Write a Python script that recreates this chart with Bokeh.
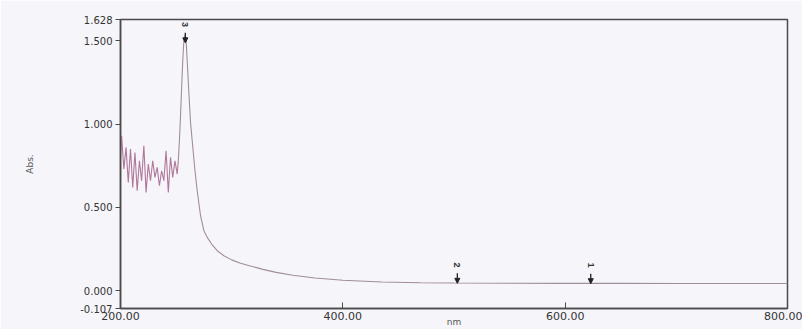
import math
from bokeh.plotting import figure
from bokeh.models import (ColumnDataSource, FixedTicker, NumeralTickFormatter, Range1d,
                          Arrow, NormalHead)
from bokeh.embed import file_html
from bokeh.resources import INLINE

# ---- data ----
# noisy region (pinker trace)
noise_nm = [200, 201, 203, 205, 207, 209, 211, 213, 215, 217, 219, 221, 223, 225, 227, 229,
            231, 233, 235, 237, 239, 241, 243, 245, 247, 249, 251, 252]
noise_abs = [0.80, 0.93, 0.73, 0.86, 0.65, 0.85, 0.62, 0.83, 0.60, 0.78, 0.66, 0.87, 0.59, 0.76,
             0.66, 0.78, 0.68, 0.74, 0.63, 0.72, 0.66, 0.84, 0.59, 0.80, 0.68, 0.78, 0.70, 0.78]
# peak and tail
band_nm = [252, 253, 254, 255, 256, 257, 258.3, 259, 260, 261, 262, 263, 264.5, 267, 269, 272,
           275, 278, 282, 287, 293, 300, 308, 316, 328, 340, 355, 375, 400, 435, 470, 500, 550,
           600, 650, 700, 750, 800]
band_abs = [0.78, 0.90, 1.05, 1.22, 1.38, 1.50, 1.535, 1.50, 1.38, 1.25, 1.13, 1.01, 0.90, 0.72,
            0.60, 0.45, 0.36, 0.32, 0.28, 0.24, 0.21, 0.185, 0.165, 0.15, 0.128, 0.11, 0.093,
            0.076, 0.063, 0.052, 0.048, 0.046, 0.045, 0.044, 0.044, 0.043, 0.043, 0.043]

peak_labels = ["1", "2", "3"]
peak_nm = [623, 503, 258.3]
peak_tip = [0.042, 0.044, 1.488]

x_ticks = [200, 400, 600, 800]
y_ticks = [-0.107, 0.0, 0.5, 1.0, 1.5, 1.628]

BG = "#f6f5fa"
AX = "#4a4a4a"
FONT = "DejaVu Sans"

p = figure(width=802, height=329, output_backend="svg", toolbar_location=None,
           x_range=Range1d(200, 800), y_range=Range1d(-0.107, 1.628),
           min_border_left=120, min_border_right=15, min_border_top=19, min_border_bottom=21)
p.background_fill_color = BG
p.border_fill_color = BG
p.outline_line_color = AX
p.outline_line_width = 1.5
p.xgrid.visible = False
p.ygrid.visible = False

p.line(noise_nm, noise_abs, line_color="#b0789a", line_width=1.1)
p.line(band_nm, band_abs, line_color="#a08c9c", line_width=1.1)

# markers
tops = [t + 0.06 for t in peak_tip]
lab_y = [t + 0.11 for t in peak_tip]
src = ColumnDataSource(dict(x=peak_nm, ys=tops, ye=peak_tip, ly=lab_y, t=peak_labels))
p.add_layout(Arrow(x_start="x", y_start="ys", x_end="x", y_end="ye", source=src,
                   line_color="#222222", line_width=1.3,
                   end=NormalHead(size=5, fill_color="#222222", line_color="#222222")))
p.text(x="x", y="ly", text="t", source=src, angle=-math.pi / 2, text_align="center",
       text_baseline="middle", text_font_size="9px", text_color="#333333",
       text_font_style="bold")

# x axis
xa = p.xaxis[0]
xa.ticker = FixedTicker(ticks=x_ticks)
xa.formatter = NumeralTickFormatter(format="0.00")
xa.major_tick_in = 6
xa.major_tick_out = 0
xa.minor_tick_line_color = None
xa.axis_line_color = AX
xa.axis_line_width = 1.5
xa.major_tick_line_color = AX
xa.major_label_text_font = FONT
xa.major_label_text_font_size = "11px"
xa.major_label_text_color = "#333333"
xa.major_label_standoff = 3
xa.axis_label = "nm"
xa.axis_label_text_font = FONT
xa.axis_label_text_font_size = "9px"
xa.axis_label_text_font_style = "normal"
xa.axis_label_text_color = "#555555"
xa.axis_label_standoff = -6

# y axis
ya = p.yaxis[0]
ya.ticker = FixedTicker(ticks=y_ticks)
ya.formatter = NumeralTickFormatter(format="0.000")
ya.major_tick_in = 0
ya.major_tick_out = 5
ya.minor_tick_line_color = None
ya.axis_line_color = AX
ya.axis_line_width = 1.5
ya.major_tick_line_color = AX
ya.major_label_text_font = FONT
ya.major_label_text_font_size = "10px"
ya.major_label_text_color = "#333333"
ya.major_label_standoff = 3
ya.axis_label = "Abs."
ya.axis_label_text_font = FONT
ya.axis_label_text_font_size = "9px"
ya.axis_label_text_font_style = "normal"
ya.axis_label_text_color = "#555555"
ya.axis_label_standoff = 42

open("out.html", "w").write(file_html(p, INLINE))
